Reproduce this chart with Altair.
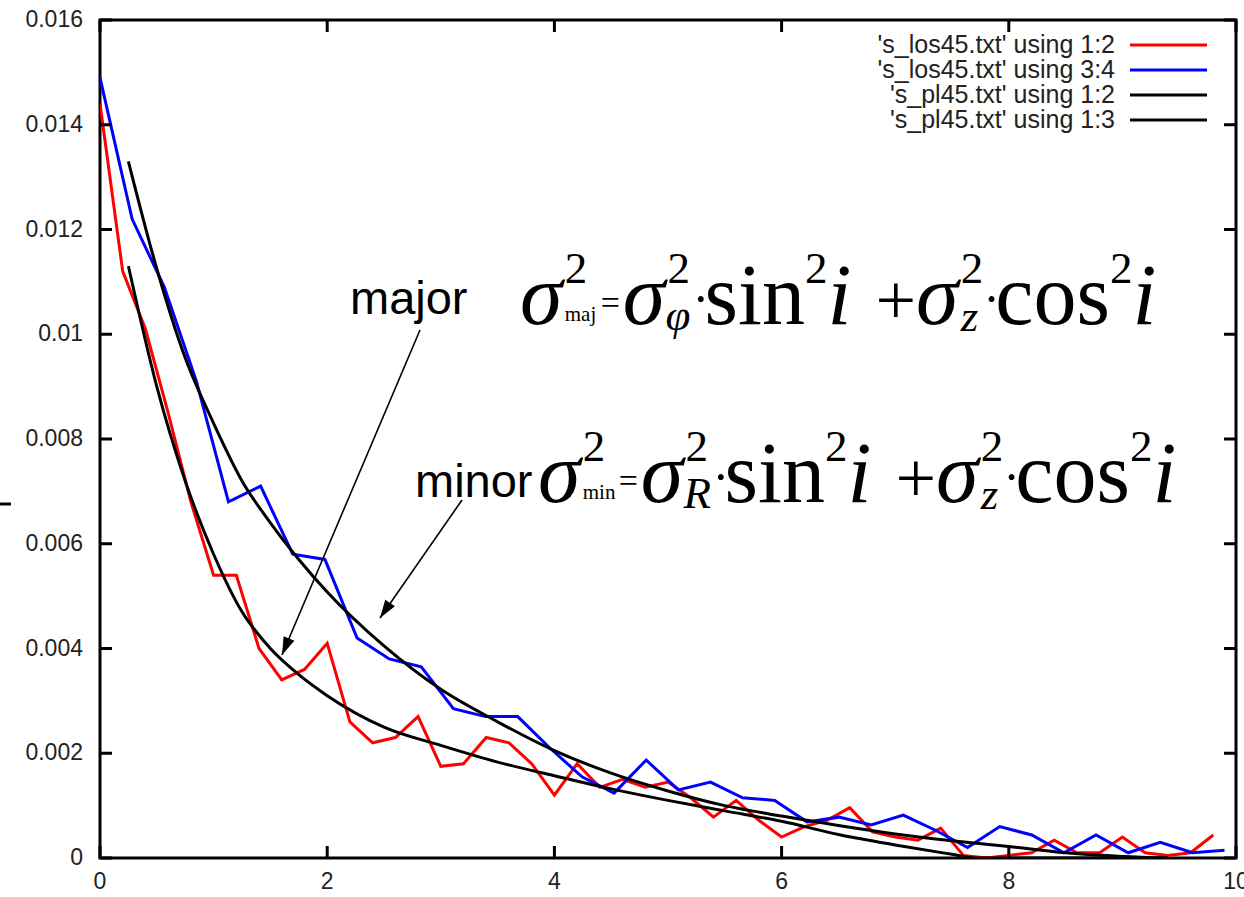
import altair as alt
import pandas as pd

# ---------------- data ----------------
red_x = [0.0, 0.2, 0.4, 0.6, 0.8, 1.0, 1.2, 1.4, 1.6, 1.8, 2.0, 2.2, 2.4, 2.6, 2.8,
         3.0, 3.2, 3.4, 3.6, 3.8, 4.0, 4.2, 4.4, 4.6, 4.8, 5.0, 5.2, 5.4, 5.6, 5.8,
         6.0, 6.2, 6.4, 6.6, 6.8, 7.0, 7.2, 7.4, 7.6, 7.8, 8.0, 8.2, 8.4, 8.6, 8.8,
         9.0, 9.2, 9.4, 9.6, 9.8]
red_y = [0.0144, 0.0112, 0.0101, 0.0085, 0.0068, 0.0054, 0.0054, 0.0040, 0.0034, 0.0036,
         0.0041, 0.0026, 0.0022, 0.0023, 0.0027, 0.00175, 0.0018, 0.0023, 0.0022, 0.0018,
         0.0012, 0.0018, 0.00135, 0.0015, 0.00135, 0.00145, 0.00115, 0.00078, 0.0011, 0.00072,
         0.0004, 0.0006, 0.00072, 0.00096, 0.0005, 0.0004, 0.00034, 0.00057, 0.00005, 0.0,
         0.00005, 0.0001, 0.00034, 0.0001, 0.0001, 0.0004, 0.0001, 0.00005, 0.0001, 0.00044]

blue_x = [0.0, 0.283, 0.566, 0.849, 1.131, 1.414, 1.697, 1.980, 2.263, 2.546, 2.828,
          3.111, 3.394, 3.677, 3.960, 4.243, 4.525, 4.808, 5.091, 5.374, 5.657, 5.940,
          6.223, 6.505, 6.788, 7.071, 7.354, 7.637, 7.920, 8.202, 8.485, 8.768, 9.051,
          9.334, 9.617, 9.899]
blue_y = [0.0149, 0.0122, 0.0109, 0.0091, 0.0068, 0.0071, 0.0058, 0.0057, 0.0042, 0.0038,
          0.00365, 0.00285, 0.0027, 0.0027, 0.0021, 0.00155, 0.00124, 0.00187, 0.0013, 0.00145,
          0.00115, 0.0011, 0.00069, 0.00078, 0.00063, 0.00082, 0.00053, 0.0002, 0.0006, 0.00044,
          0.0001, 0.00044, 0.0001, 0.0003, 0.0001, 0.00015]

maj_x = [0.25, 0.5, 0.75, 1.0, 1.25, 1.5, 1.75, 2.0, 2.5, 3.0, 3.5, 4.0, 4.5, 5.0,
         5.5, 6.0, 6.5, 7.0, 7.5, 8.0, 8.5, 9.0, 9.4]
maj_y = [0.0133, 0.01125, 0.00955, 0.0083, 0.0072, 0.0064, 0.0057, 0.00508, 0.00405,
         0.00322, 0.0026, 0.00205, 0.00162, 0.00128, 0.0010, 0.0008, 0.00062, 0.00046,
         0.00033, 0.00022, 0.0001, 0.00003, 0.0]

min_x = [0.25, 0.5, 0.75, 1.0, 1.25, 1.5, 1.75, 2.0, 2.5, 3.0, 3.5, 4.0, 4.5, 5.0,
         5.5, 6.0, 6.5, 7.0, 7.5, 7.7, 9.4]
min_y = [0.0113, 0.0090, 0.0072, 0.0058, 0.0047, 0.0040, 0.0035, 0.0031, 0.0025,
         0.00215, 0.00183, 0.00157, 0.00132, 0.0011, 0.0009, 0.0007, 0.00045, 0.00025,
         0.00007, 0.0, 0.0]

x_ticks = [0, 2, 4, 6, 8, 10]
x_tick_labels = ["0", "2", "4", "6", "8", "10"]
y_ticks = [0, 0.002, 0.004, 0.006, 0.008, 0.01, 0.012, 0.014, 0.016]
y_tick_labels = ["0", "0.002", "0.004", "0.006", "0.008", "0.01", "0.012", "0.014", "0.016"]

leg_labels = ["'s_los45.txt' using 1:2", "'s_los45.txt' using 3:4",
              "'s_pl45.txt' using 1:2", "'s_pl45.txt' using 1:3"]
leg_colors = ["#ff0000", "#0000ff", "#000000", "#000000"]

# ---------------- layout ----------------
W, H = 1136, 838
OX, OY = 100, 20

xs = alt.Scale(domain=[0, 10], nice=False, zero=False)
ys = alt.Scale(domain=[0, 0.016], nice=False, zero=False)


def series(xv, yv, color, interp="linear"):
    df = pd.DataFrame({"x": xv, "y": yv})
    return alt.Chart(df).mark_line(color=color, strokeWidth=3, interpolate=interp,
                                   clip=True).encode(
        x=alt.X("x:Q", scale=xs, axis=None),
        y=alt.Y("y:Q", scale=ys, axis=None))


red = series(red_x, red_y, "#ff0000")
blue = series(blue_x, blue_y, "#0000ff")
bmaj = series(maj_x, maj_y, "#000000", interp="monotone")
bmin = series(min_x, min_y, "#000000", interp="monotone")

# inward ticks on all four sides
TL = 12
ydf = pd.DataFrame({"v": y_ticks, "lab": y_tick_labels})
xdf = pd.DataFrame({"v": x_ticks, "lab": x_tick_labels})
tk = dict(color="black", strokeWidth=3)
t_left = alt.Chart(ydf).mark_rule(**tk).encode(
    y=alt.Y("v:Q", scale=ys, axis=None), x=alt.value(0), x2=alt.value(TL))
t_right = alt.Chart(ydf).mark_rule(**tk).encode(
    y=alt.Y("v:Q", scale=ys, axis=None), x=alt.value(W), x2=alt.value(W - TL))
t_bot = alt.Chart(xdf).mark_rule(**tk).encode(
    x=alt.X("v:Q", scale=xs, axis=None), y=alt.value(H), y2=alt.value(H - TL))
t_top = alt.Chart(xdf).mark_rule(**tk).encode(
    x=alt.X("v:Q", scale=xs, axis=None), y=alt.value(0), y2=alt.value(TL))

# tick labels (placed through the scales)
lab_style = dict(font="Liberation Sans", fontSize=23, color="#222222")
y_labels = alt.Chart(ydf).mark_text(align="right", baseline="middle", **lab_style).encode(
    y=alt.Y("v:Q", scale=ys, axis=None), x=alt.value(-17), text="lab:N")
x_labels = alt.Chart(xdf).mark_text(align="center", baseline="top", **lab_style).encode(
    x=alt.X("v:Q", scale=xs, axis=None), y=alt.value(H + 13), text="lab:N")


def PX(f):
    return alt.X(f, scale=None, axis=None)


def PY(f):
    return alt.Y(f, scale=None, axis=None)


# legend (inside the frame, top right)
leg_rows = [45, 70, 95, 120]
ldf = pd.DataFrame({
    "t": leg_labels, "c": leg_colors,
    "tx": [1115 - OX] * 4, "ty": [r - OY for r in leg_rows],
    "x1": [1130 - OX] * 4, "x2": [1207 - OX] * 4,
})
leg_text = alt.Chart(ldf).mark_text(align="right", baseline="middle", font="Liberation Sans",
                                    fontSize=25, color="#222222").encode(
    x=PX("tx:Q"), y=PY("ty:Q"), text="t:N")
leg_line = alt.Chart(ldf).mark_rule(strokeWidth=3).encode(
    x=PX("x1:Q"), x2="x2:Q", y=PY("ty:Q"), color=alt.Color("c:N", scale=None))

# labels "major" / "minor"
wdf = pd.DataFrame({"t": ["major", "minor"], "px": [350 - OX, 415 - OX],
                    "py": [314 - OY, 497 - OY]})
words = alt.Chart(wdf).mark_text(align="left", baseline="alphabetic", font="Liberation Sans",
                                 fontSize=47, color="black").encode(
    x=PX("px:Q"), y=PY("py:Q"), text="t:N")

# formulas: pieces laid out left to right with Times-like advance widths
S = 86            # main glyph size
SS = 45           # superscript / subscript size
ST = 21           # tiny subscript (maj / min)


def formula(x0, B, tiny, var, var_adv):
    out = []  # text, x, baseline, size, italic
    x = x0

    def put(t, dx, dy, size, it, adv):
        nonlocal x
        out.append((t, x + dx, B + dy, size, it))
        x += adv

    put("σ", 0, 0, S, True, 0.52 * S)
    out.append(("2", x, B - 41, SS, False))
    put(tiny, 0, -3, ST, False, 0.42 * S)
    put("=", 0, -10, 34, False, 22)
    put("σ", 0, 0, S, True, 0.52 * S)
    out.append(("2", x, B - 41, SS, False))
    put(var, -2, 6, SS, True, var_adv)
    put("·", 0, -8, 50, False, 12)
    put("sin", 0, 0, S, False, 1.167 * S)
    put("2", 0, -41, SS, False, 0.5 * SS)
    put("i", 0, 0, S, True, 0.278 * S + 0.28 * S)
    put("+", 0, 0, 72, False, 0.564 * 72)
    put("σ", 0, 0, S, True, 0.52 * S)
    out.append(("2", x, B - 41, SS, False))
    put("z", 0, 7, SS, True, 0.5 * SS)
    put("·", 0, -8, 50, False, 12)
    put("cos", 0, 0, S, False, 1.333 * S)
    put("2", 0, -41, SS, False, 0.5 * SS)
    put("i", 0, 0, S, True, 0.278 * S)
    return out


f1 = formula(520, 324, "maj", "φ", 25)
f2 = formula(538, 502, "min", "R", 27)
fdf = pd.DataFrame(f1 + f2, columns=["t", "px", "py", "fs", "it"])
fdf["px"] = fdf["px"] - OX
fdf["py"] = fdf["py"] - OY


def ftext(df, style):
    return alt.Chart(df).mark_text(align="left", baseline="alphabetic", font="Liberation Serif",
                                   fontStyle=style, color="black").encode(
        x=PX("px:Q"), y=PY("py:Q"), text="t:N",
        size=alt.Size("fs:Q", scale=None, legend=None))


f_it = ftext(fdf[fdf["it"]].drop(columns="it"), "italic")
f_up = ftext(fdf[~fdf["it"]].drop(columns="it"), "normal")

# arrows
adf = pd.DataFrame({"x1": [420 - OX, 462 - OX], "y1": [330 - OY, 500 - OY],
                    "x2": [282 - OX, 380 - OX], "y2": [655 - OY, 618 - OY],
                    "a": [203, 214]})
arrow_line = alt.Chart(adf).mark_rule(color="black", strokeWidth=1.6).encode(
    x=PX("x1:Q"), y=PY("y1:Q"), x2="x2:Q", y2="y2:Q")
arrow_head = alt.Chart(adf).mark_point(shape="M0,0 L0.65,2 L-0.65,2 Z", filled=True,
                                       color="black", opacity=1, size=324,
                                       strokeWidth=0).encode(
    x=PX("x2:Q"), y=PY("y2:Q"), angle=alt.Angle("a:Q", scale=None))

# small cut-off mark at far left
dash = alt.Chart(pd.DataFrame({"k": [0]})).mark_rule(color="black", strokeWidth=3).encode(
    x=alt.value(-OX), x2=alt.value(-OX + 11), y=alt.value(504 - OY))

chart = alt.layer(
    red, blue, bmaj, bmin,
    t_left, t_right, t_bot, t_top, y_labels, x_labels,
    leg_line, leg_text, words, f_it, f_up, arrow_line, arrow_head, dash,
).properties(
    width=W, height=H,
    autosize=alt.AutoSizeParams(type="none"),
    padding={"left": OX, "top": OY, "right": 8, "bottom": 39},
    background="white",
).configure_view(stroke="black", strokeWidth=3)

chart.save("out.html", embed_options={"renderer": "svg", "actions": False})
